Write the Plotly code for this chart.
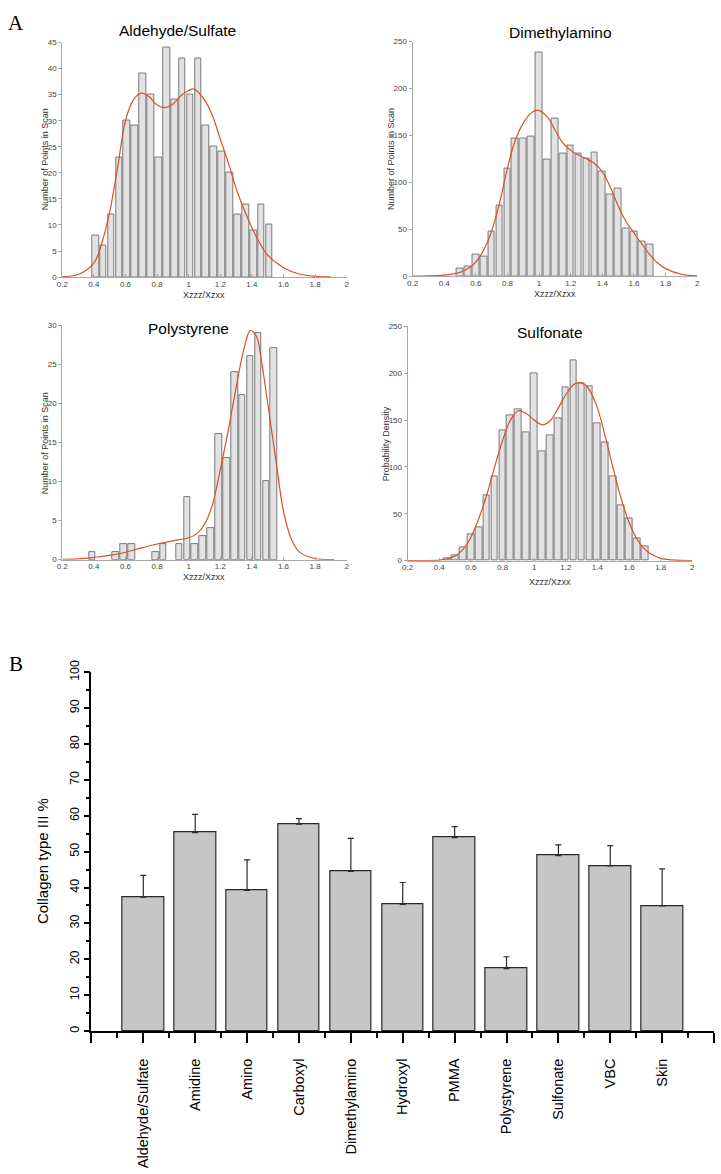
import plotly.graph_objects as go

# ---------------- Data: panel A histograms ----------------
ald_bins = [0.41, 0.46, 0.51, 0.56, 0.61, 0.66, 0.71, 0.76, 0.81, 0.86, 0.91, 0.96,
            1.01, 1.06, 1.11, 1.16, 1.21, 1.26, 1.31, 1.36, 1.41, 1.46, 1.51]
ald_counts = [8, 6, 12, 23, 30, 29, 39, 35, 23, 44, 34, 42, 35, 42, 29, 25, 24, 20, 12, 14, 9, 14, 10]
ald_fit_x = [0.2, 0.3, 0.4, 0.45, 0.5, 0.55, 0.6, 0.65, 0.7, 0.75, 0.8, 0.85, 0.9, 0.95, 1.0, 1.03,
             1.1, 1.15, 1.2, 1.25, 1.3, 1.35, 1.4, 1.45, 1.5, 1.6, 1.7, 1.8, 1.9]
ald_fit_y = [0.1, 0.5, 2.7, 6.5, 12.5, 21, 30, 34, 35.3, 34.6, 33, 32.5, 33.2, 34.8, 35.8, 36.1,
             34, 31, 26.5, 22, 17, 13, 9.5, 6.5, 4.2, 1.8, 0.6, 0.15, 0.05]

dim_bins = [0.50, 0.55, 0.60, 0.65, 0.70, 0.75, 0.80, 0.85, 0.90, 0.95, 1.00, 1.05, 1.10,
            1.15, 1.20, 1.25, 1.30, 1.35, 1.40, 1.45, 1.50, 1.55, 1.60, 1.65, 1.70]
dim_counts = [8, 10, 23, 21, 48, 75, 115, 147, 147, 149, 238, 124, 168, 131, 139, 131, 125,
              132, 111, 87, 93, 51, 48, 37, 34]
dim_fit_x = [0.2, 0.3, 0.4, 0.5, 0.55, 0.6, 0.65, 0.7, 0.75, 0.8, 0.85, 0.9, 0.95, 0.99, 1.05,
             1.1, 1.15, 1.2, 1.25, 1.3, 1.35, 1.4, 1.45, 1.5, 1.55, 1.6, 1.65, 1.7, 1.75, 1.8, 1.9, 2.0]
dim_fit_y = [0, 0.3, 1, 4, 8, 15, 28, 48, 78, 115, 145, 163, 174, 177, 170, 156, 142, 134, 129,
             125, 120, 111, 95, 75, 58, 46, 34, 23, 14, 8, 2, 0.3]

pol_bins = [0.39, 0.54, 0.59, 0.64, 0.79, 0.84, 0.94, 0.99, 1.04, 1.09, 1.14, 1.19, 1.24,
            1.29, 1.34, 1.39, 1.44, 1.49, 1.54]
pol_counts = [1, 1, 2, 2, 1, 2, 2, 8, 2, 3, 4, 16, 13, 24, 21, 26, 29, 10, 27]
pol_fit_x = [0.2, 0.3, 0.4, 0.5, 0.6, 0.7, 0.8, 0.9, 1.0, 1.05, 1.1, 1.15, 1.2, 1.25, 1.3, 1.35,
             1.39, 1.43, 1.46, 1.5, 1.55, 1.6, 1.65, 1.7, 1.8, 1.92]
pol_fit_y = [0.05, 0.1, 0.3, 0.55, 0.95, 1.5, 2.0, 2.4, 2.8, 3.3, 4.5, 7, 11.5, 16.5, 22, 27,
             29.3, 28.5, 25.5, 20, 13, 6.2, 2.6, 1.0, 0.15, 0.02]

sul_bins = [0.45, 0.50, 0.55, 0.60, 0.65, 0.70, 0.75, 0.80, 0.85, 0.90, 0.95, 1.00, 1.05,
            1.10, 1.15, 1.20, 1.25, 1.30, 1.35, 1.40, 1.45, 1.50, 1.55, 1.60, 1.65, 1.70]
sul_counts = [2.5, 5.5, 14, 28, 35, 70, 90, 139, 155, 161, 137, 200, 117, 134, 152, 185, 214,
              189, 186, 147, 126, 90, 59, 45, 24, 15]
sul_fit_x = [0.2, 0.3, 0.4, 0.45, 0.5, 0.55, 0.6, 0.65, 0.7, 0.75, 0.8, 0.85, 0.9, 0.95, 1.0,
             1.05, 1.1, 1.15, 1.2, 1.25, 1.28, 1.32, 1.35, 1.4, 1.45, 1.5, 1.55, 1.6, 1.65, 1.7,
             1.75, 1.8, 1.9, 2.0]
sul_fit_y = [0, 0.1, 0.6, 2, 5, 12, 25, 45, 70, 100, 128, 150, 160, 157, 150, 145, 149, 162,
             177, 188, 190, 188, 182, 163, 132, 98, 66, 41, 23, 12, 6, 2.5, 0.5, 0.1]

# ---------------- Data: panel B ----------------
categories = ["Aldehyde/Sulfate", "Amidine", "Amino", "Carboxyl", "Dimethylamino", "Hydroxyl",
              "PMMA", "Polystyrene", "Sulfonate", "VBC", "Skin"]
collagen_mean = [37.3, 55.3, 39.2, 57.7, 44.5, 35.3, 53.9, 17.4, 48.9, 46.0, 34.9]
collagen_err = [6.1, 5.1, 8.5, 1.5, 9.2, 6.1, 3.1, 3.3, 3.0, 5.7, 10.3]

W, H = 721, 1174
FONT = "Liberation Sans, Arial, sans-serif"
SERIF = "Liberation Serif, Times New Roman, serif"


def px_x(p):
    return p / W


def px_y(p):
    return 1 - p / H


fig = go.Figure()

panels = [
    # (bins, counts, fitx, fity, axis suffix, xdomain px, ydomain px, yrange, dtick)
    (ald_bins, ald_counts, ald_fit_x, ald_fit_y, "", (57, 345), (31, 269), 45, 5),
    (dim_bins, dim_counts, dim_fit_x, dim_fit_y, "2", (411.7, 700), (30, 268), 250, 50),
    (pol_bins, pol_counts, pol_fit_x, pol_fit_y, "3", (57, 345), (317.7, 555.7), 30, 5),
    (sul_bins, sul_counts, sul_fit_x, sul_fit_y, "4", (406.7, 695), (319, 556.7), 250, 50),
]

for bins, counts, fx, fy, s, xd, yd, ymax, dt in panels:
    fig.add_trace(go.Bar(x=bins, y=counts, width=0.042,
                         marker=dict(color="#e2e2e2", line=dict(color="#7a7a7a", width=1)),
                         xaxis="x" + s, yaxis="y" + s, showlegend=False, hoverinfo="skip"))
    fig.add_trace(go.Scatter(x=fx, y=fy, mode="lines",
                             line=dict(color="#d9502b", width=1.2, shape="spline"),
                             xaxis="x" + s, yaxis="y" + s, showlegend=False, hoverinfo="skip"))
    axcommon = dict(showline=True, linecolor="#a8a8a8", linewidth=1,
                    ticklen=3, tickcolor="#a8a8a8", showgrid=False, zeroline=False,
                    tickfont=dict(family=FONT, size=8, color="#444444"))
    fig.update_layout(**{
        "xaxis" + s: dict(domain=[px_x(xd[0]), px_x(xd[1])], range=[0.2, 2], dtick=0.2,
                          tick0=0.2, anchor="y" + s, ticks="inside", ticklabelstandoff=-1,
                          **axcommon),
        "yaxis" + s: dict(domain=[px_y(yd[1]), px_y(yd[0])], range=[0, ymax], dtick=dt,
                          anchor="x" + s, ticks="outside", **axcommon),
    })

# Panel B
xidx = list(range(len(categories)))
fig.add_trace(go.Bar(x=xidx, y=collagen_mean, width=0.8,
                     marker=dict(color="#c6c6c6", line=dict(color="#2a2a2a", width=1.2)),
                     error_y=dict(type="data", symmetric=False, array=collagen_err,
                                  arrayminus=[0] * len(collagen_err), color="#2a2a2a",
                                  thickness=1.2, width=3),
                     xaxis="x5", yaxis="y5", showlegend=False, hoverinfo="skip"))

fig.update_layout(
    xaxis5=dict(domain=[px_x(86.5), px_x(717)], range=[-1, 11], anchor="y5",
                tickmode="array", tickvals=[-1] + xidx + [11],
                ticktext=[""] + categories + [""], tickangle=-90,
                ticks="outside", ticklen=10, tickwidth=1.5, tickcolor="black",
                ticklabelstandoff=10,
                minor=dict(tickmode="array", tickvals=[i - 0.5 for i in range(len(categories) + 1)],
                           ticks="outside", ticklen=5, tickwidth=1.5, tickcolor="black"),
                showline=True, linecolor="black", linewidth=1.5, showgrid=False, zeroline=False,
                tickfont=dict(family=FONT, size=14.5, color="black")),
    yaxis5=dict(domain=[px_y(1034), px_y(670)], range=[0, 100], dtick=10, anchor="x5",
                tickangle=-90, ticks="outside", ticklen=6, tickwidth=1.5, tickcolor="black",
                minor=dict(dtick=5, ticks="outside", ticklen=4, tickwidth=1.5, tickcolor="black"),
                showline=True, linecolor="black", linewidth=1.5, showgrid=False, zeroline=False,
                tickfont=dict(family=FONT, size=12.5, color="black")),
)

ann = []
# subplot titles
for text, cx, cy in [("Aldehyde/Sulfate", 173.5, 19), ("Dimethylamino", 561.7, 21),
                     ("Polystyrene", 185, 321), ("Sulfonate", 551.3, 325.5)]:
    ann.append(dict(text=text, x=px_x(cx), y=px_y(cy), xref="paper", yref="paper",
                    showarrow=False, xanchor="center", yanchor="middle",
                    font=dict(family=FONT, size=15.5, color="black")))
# x axis labels
for cx, cy in [(201, 287), (556, 286), (201, 573), (551, 578)]:
    ann.append(dict(text="Xzzz/Xzxx", x=px_x(cx), y=px_y(cy), xref="paper", yref="paper",
                    showarrow=False, xanchor="center", yanchor="middle",
                    font=dict(family=FONT, size=9, color="#333333")))
# y axis labels
for text, cx, cy in [("Number of Points in Scan", 39, 150), ("Number of Points in Scan", 390, 149),
                     ("Number of Points in Scan", 39, 438), ("Probability Density", 384.5, 438)]:
    ann.append(dict(text=text, x=px_x(cx), y=px_y(cy), xref="paper", yref="paper",
                    showarrow=False, xanchor="center", yanchor="middle", textangle=-90,
                    font=dict(family=FONT, size=9, color="#333333")))
# panel B y title
ann.append(dict(text="Collagen type III %", x=px_x(37), y=px_y(862), xref="paper", yref="paper",
                showarrow=False, xanchor="center", yanchor="middle", textangle=-90,
                font=dict(family=FONT, size=15, color="black")))
# panel letters
ann.append(dict(text="A", x=px_x(10), y=px_y(11), xref="paper", yref="paper", showarrow=False,
                xanchor="center", yanchor="middle", font=dict(family=SERIF, size=21, color="black")))
ann.append(dict(text="B", x=px_x(10), y=px_y(662), xref="paper", yref="paper", showarrow=False,
                xanchor="center", yanchor="middle", font=dict(family=SERIF, size=21, color="black")))

fig.update_layout(width=W, height=H, autosize=False,
                  margin=dict(l=0, r=0, t=0, b=0),
                  paper_bgcolor="white", plot_bgcolor="white",
                  bargap=0, annotations=ann, showlegend=False)

fig.write_html("out.html", config={"displayModeBar": False},
               post_script="document.body.style.margin='0px';document.body.style.overflow='hidden';")
